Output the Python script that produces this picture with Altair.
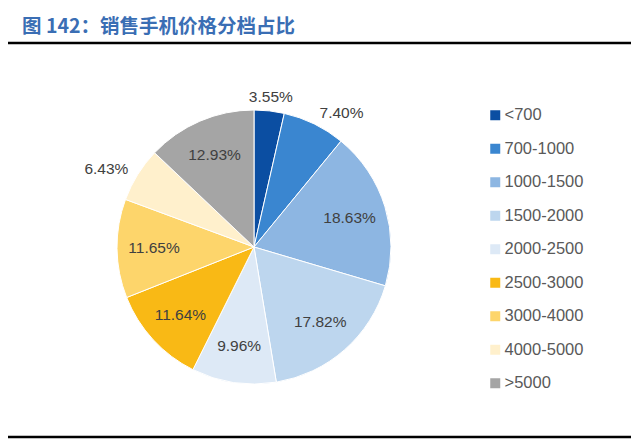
import altair as alt
import pandas as pd

categories = ["<700", "700-1000", "1000-1500", "1500-2000", "2000-2500",
              "2500-3000", "3000-4000", "4000-5000", ">5000"]
values = [3.55, 7.40, 18.63, 17.82, 9.96, 11.64, 11.65, 6.43, 12.93]
colors = ["#0b4ea2", "#3a86d0", "#8db6e2", "#bdd6ee", "#dde9f6",
          "#f9b915", "#fdd56b", "#fff0cc", "#a5a5a5"]
title_text = "图 142：销售手机价格分档占比"

df = pd.DataFrame({
    "cat": categories,
    "value": values,
    "idx": list(range(len(categories))),
    "label": [f"{v:.2f}%" for v in values],
})

CX, CY = 246, 239
R = 137

color_scale = alt.Scale(domain=categories, range=colors)

base = alt.Chart(df).encode(
    theta=alt.Theta("value:Q", stack=True),
    order=alt.Order("idx:Q", sort="ascending"),
    x=alt.value(CX),
    y=alt.value(CY),
)

arcs = base.mark_arc(radius=R, stroke="white", strokeWidth=1).encode(
    color=alt.Color(
        "cat:N", scale=color_scale, sort=categories,
        legend=alt.Legend(
            title=None, orient="none", legendX=479, legendY=99,
            symbolType="square", symbolSize=100, symbolStrokeWidth=0,
            labelFontSize=16.5, labelFont="Liberation Sans", labelColor="#595959",
            rowPadding=16.5, padding=0, labelOffset=1, labelLimit=200,
        ),
    )
)

outside = ["<700", "700-1000", "4000-5000"]
inside_cats = [c for c in categories if c not in outside]

txt_style = dict(fontSize=15.5, font="Liberation Sans", color="#404040", baseline="middle")


def show_only(cats):
    return alt.condition(alt.FieldOneOfPredicate(field="cat", oneOf=cats),
                         alt.value(1), alt.value(0))


inside = base.mark_text(radius=100, align="center", **txt_style).encode(
    text="label:N", opacity=show_only(inside_cats)
)

out_layers = []
for cat, align, rad in [("<700", "center", 151), ("700-1000", "left", 149), ("4000-5000", "right", 148)]:
    out_layers.append(
        base.mark_text(radius=rad, align=align, **txt_style).encode(
            text="label:N", opacity=show_only([cat])
        )
    )

deco = alt.Data(values=[{"t": title_text}])
title = alt.Chart(deco).mark_text(
    align="left", baseline="alphabetic", fontSize=19.5, fontWeight="bold",
    font="Noto Sans CJK SC", color="#3a6eb4"
).encode(x=alt.value(14), y=alt.value(25), text="t:N")

top_rule = alt.Chart(deco).mark_rule(color="black", strokeWidth=2.5).encode(
    x=alt.value(0), x2=alt.value(623), y=alt.value(35)
)
bottom_rule = alt.Chart(deco).mark_rule(color="black", strokeWidth=2.5).encode(
    x=alt.value(0), x2=alt.value(623), y=alt.value(429)
)

chart = alt.layer(arcs, inside, *out_layers, title, top_rule, bottom_rule).properties(
    width=624, height=431, padding=0,
    autosize=alt.AutoSizeParams(type="none"),
).configure_view(stroke=None)

chart.save("out.html", embed_options={"renderer": "svg", "actions": False})
